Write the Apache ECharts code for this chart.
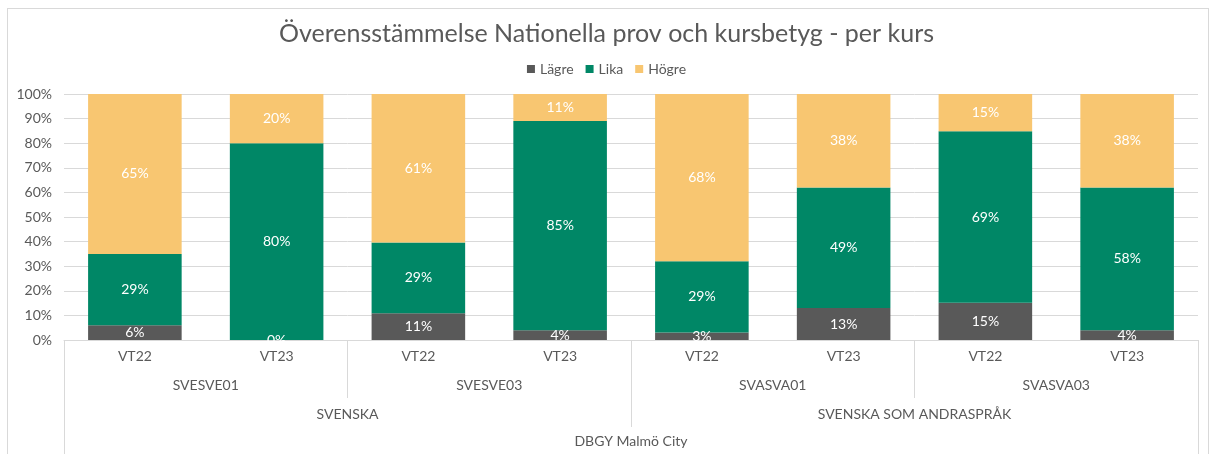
<!DOCTYPE html>
<html>
<head>
<meta charset="utf-8">
<script src="https://cdn.jsdelivr.net/npm/echarts@6/dist/echarts.min.js"></script>
<style>
html,body{margin:0;padding:0;background:#fff;}
#chart{position:absolute;left:0;top:0;width:1213px;height:454px;}
#frame{position:absolute;left:7px;top:8px;width:1200px;height:460px;border:1px solid #d9d9d9;pointer-events:none;}
</style>
</head>
<body>
<div id="chart"></div>
<div id="frame"></div>
<script>
const terms = ['VT22','VT23','VT22','VT23','VT22','VT23','VT22','VT23'];
const courses = ['SVESVE01','SVESVE03','SVASVA01','SVASVA03'];
const subjects = ['SVENSKA','SVENSKA SOM ANDRASPRÅK'];
const school = ['DBGY Malmö City'];
const seriesNames = ['Lägre','Lika','Högre'];
const lagre = [6, 0, 11, 4, 3, 13, 15, 4];
const lika  = [29, 80, 29, 85, 29, 49, 69, 58];
const hogre = [65, 20, 61, 11, 68, 38, 15, 38];
const yTicks = [0,10,20,30,40,50,60,70,80,90,100];

const colors = ['#595959','#008766','#f8c671'];
const raw = [lagre, lika, hogre];
const totals = terms.map((_, i) => lagre[i] + lika[i] + hogre[i]);
const txt = '#595959';
const font = 'Lato';

const series = raw.map((arr, s) => ({
  name: seriesNames[s],
  type: 'bar',
  stack: 'total',
  barCategoryGap: '34%',
  itemStyle: {color: colors[s]},
  data: arr.map((v, i) => ({value: v / totals[i] * 100, raw: v})),
  label: {
    show: true,
    position: 'inside',
    color: '#ffffff',
    fontFamily: font,
    fontSize: 14,
    formatter: p => p.data.raw + '%'
  }
}));

const chart = echarts.init(document.getElementById('chart'), null, {renderer: 'canvas'});
chart.setOption({
  animation: false,
  textStyle: {fontFamily: font},
  title: {
    text: 'Överensstämmelse Nationella prov och kursbetyg - per kurs',
    left: 'center',
    top: 16,
    textStyle: {color: txt, fontSize: 25, fontWeight: 'normal', fontFamily: font}
  },
  legend: {
    data: seriesNames,
    top: 57,
    left: 'center',
    itemWidth: 8,
    itemHeight: 8,
    itemGap: 12,
    icon: 'rect',
    textStyle: {color: txt, fontSize: 14, fontFamily: font}
  },
  grid: {left: 64, right: 15, top: 94, bottom: 114, containLabel: false},
  xAxis: [
    {
      type: 'category', data: terms, position: 'bottom',
      axisLine: {show: true, lineStyle: {color: '#d9d9d9'}},
      axisTick: {show: false},
      axisLabel: {color: txt, fontSize: 14, margin: 9, fontFamily: font}
    },
    {
      type: 'category', data: courses, position: 'bottom', gridIndex: 0,
      axisLine: {show: false},
      axisTick: {show: true, length: 58, lineStyle: {color: '#d9d9d9'}},
      axisLabel: {color: txt, fontSize: 14, margin: 38, fontFamily: font}
    },
    {
      type: 'category', data: subjects, position: 'bottom', gridIndex: 0,
      axisLine: {show: false},
      axisTick: {show: true, length: 87, lineStyle: {color: '#d9d9d9'}},
      axisLabel: {color: txt, fontSize: 14, margin: 67, fontFamily: font}
    },
    {
      type: 'category', data: school, position: 'bottom', gridIndex: 0,
      axisLine: {show: false},
      axisTick: {show: true, length: 130, lineStyle: {color: '#d9d9d9'}},
      axisLabel: {color: txt, fontSize: 14, margin: 94, fontFamily: font}
    }
  ],
  yAxis: {
    type: 'value', min: 0, max: 100, interval: 10,
    axisLine: {show: false},
    axisTick: {show: false},
    splitLine: {lineStyle: {color: '#d9d9d9'}},
    axisLabel: {color: txt, fontSize: 14, margin: 12, fontFamily: font,
      formatter: v => (yTicks.indexOf(v) >= 0 ? v + '%' : '')}
  },
  series: series
});
</script>
</body>
</html>
